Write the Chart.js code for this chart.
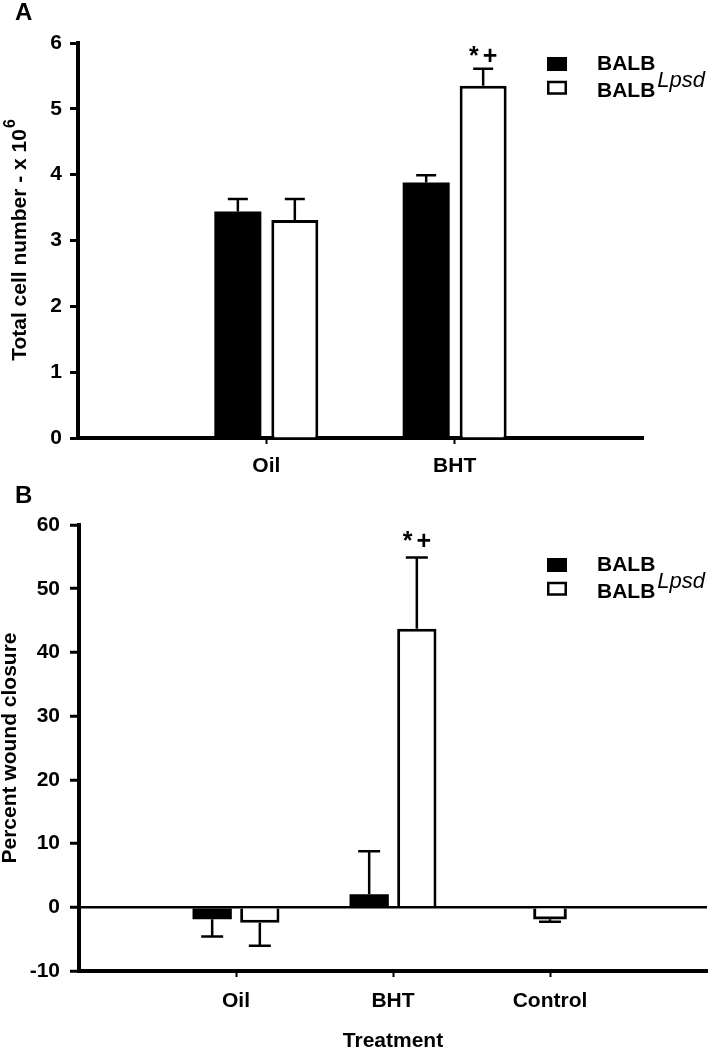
<!DOCTYPE html>
<html>
<head>
<meta charset="utf-8">
<script src="https://cdn.jsdelivr.net/npm/chart.js@4.4.1/dist/chart.umd.min.js"></script>
<style>
    html, body { margin: 0; padding: 0; background: #fff; }
    #wrap { position: relative; width: 719px; height: 1050px; }
    .panel { position: absolute; left: 0; width: 719px; }
    #panelA { top: 0; height: 480px; }
    #panelB { top: 480px; height: 570px; }
</style>
</head>
<body>
<div id="wrap">
    <div class="panel" id="panelA"><canvas id="chartA" width="719" height="480"></canvas></div>
    <div class="panel" id="panelB"><canvas id="chartB" width="719" height="570"></canvas></div>
</div>
<script>
// Panel A - total cell number (x 10^6)
const labelsA = ['', 'Oil', 'BHT', ''];
const balbA = [null, 3.44, 3.88, null];
const balbErrA = [null, 0.19, 0.11, null];
const lpsdA = [null, 3.31, 5.35, null];
const lpsdErrA = [null, 0.32, 0.26, null];
const lpsdMarksA = [null, null, '*+', null];
const yTicksA = [0, 1, 2, 3, 4, 5, 6];

// Panel B - percent wound closure
const labelsB = ['', 'Oil', 'BHT', 'Control', ''];
const balbB = [null, -1.86, 2.03, null, null];
const balbErrB = [null, 2.74, 6.77, null, null];
const lpsdB = [null, -2.44, 43.7, null, null];
const lpsdErrB = [null, 3.61, 11.2, null, null];
const lpsdMarksB = [null, null, '*+', null, null];
const controlB = [null, null, null, -1.86, null];
const controlErrB = [null, null, null, 0.41, null];
const yTicksB = [-10, 0, 10, 20, 30, 40, 50, 60];

const seriesNames = ['BALB', 'BALB'];
const seriesSup = ['', 'Lpsd'];

const FONT = '"Liberation Sans", Arial, Helvetica, sans-serif';
const FS = 21;
Chart.defaults.font.family = FONT;
Chart.defaults.color = '#000';

// error bars + significance marks drawn from the bar elements
const errorBars = {
    id: 'errorBars',
    afterDatasetsDraw(chart, args, opts) {
        const ctx = chart.ctx;
        const yScale = chart.scales.y;
        chart.data.datasets.forEach(function(ds, di) {
            if (!ds.errors) return;
            const meta = chart.getDatasetMeta(di);
            meta.data.forEach(function(bar, i) {
                const v = ds.data[i];
                const e = ds.errors[i];
                if (v === null || e === null || e === undefined) return;
                const end = yScale.getPixelForValue(v >= 0 ? v + e : v - e);
                ctx.save();
                ctx.strokeStyle = '#000';
                ctx.lineWidth = 2.5;
                ctx.beginPath();
                ctx.moveTo(bar.x, bar.y);
                ctx.lineTo(bar.x, end);
                ctx.moveTo(bar.x - opts.cap / 2, end);
                ctx.lineTo(bar.x + opts.cap / 2, end);
                ctx.stroke();
                if (ds.marks && ds.marks[i]) {
                    ctx.fillStyle = '#000';
                    ctx.font = 'bold 25px ' + FONT;
                    ctx.letterSpacing = '4px';
                    ctx.textAlign = 'center';
                    ctx.textBaseline = 'middle';
                    ctx.fillText(ds.marks[i], bar.x + 2, end - opts.markGap);
                }
                ctx.restore();
            });
        });
    }
};

// panel letter, legend with superscript, optional y title with superscript
const decor = {
    id: 'decor',
    afterDraw(chart, args, o) {
        const ctx = chart.ctx;
        ctx.save();
        ctx.fillStyle = '#000';
        ctx.textBaseline = 'middle';
        ctx.textAlign = 'left';
        ctx.font = 'bold 24px ' + FONT;
        ctx.fillText(o.letter, 15, o.letterY);

        // legend
        const lx = o.legendX;
        ctx.fillRect(lx, o.legendY[0] - 7, 20, 14);
        ctx.lineWidth = 2.5;
        ctx.strokeStyle = '#000';
        ctx.strokeRect(lx + 1.25, o.legendY[1] - 9, 17.5, 11.5);
        for (let k = 0; k < seriesNames.length; k++) {
            ctx.font = 'bold ' + FS + 'px ' + FONT;
            ctx.fillText(seriesNames[k], lx + 50, o.legendY[k]);
            if (seriesSup[k]) {
                const w = ctx.measureText(seriesNames[k]).width;
                ctx.font = 'italic 22px ' + FONT;
                ctx.fillText(seriesSup[k], lx + 52 + w, o.legendY[k] - 10);
            }
        }

        if (o.yTitle) {
            const area = chart.chartArea;
            ctx.translate(o.yTitle.x, (area.top + area.bottom) / 2);
            ctx.rotate(-Math.PI / 2);
            ctx.font = 'bold ' + FS + 'px ' + FONT;
            const w1 = ctx.measureText(o.yTitle.text).width;
            ctx.font = 'bold 16px ' + FONT;
            const w2 = ctx.measureText(o.yTitle.sup).width;
            const x0 = -(w1 + w2) / 2;
            ctx.font = 'bold ' + FS + 'px ' + FONT;
            ctx.fillText(o.yTitle.text, x0, 0);
            ctx.font = 'bold 16px ' + FONT;
            ctx.fillText(o.yTitle.sup, x0 + w1 + 1, -9);
        }
        ctx.restore();
    }
};

function xTickColor(c) {
    return (c.tick && c.tick.label) ? '#000' : 'rgba(0,0,0,0)';
}

const chartA = new Chart(document.getElementById('chartA'), {
    type: 'bar',
    data: {
        labels: labelsA,
        datasets: [{
            label: 'BALB',
            data: balbA,
            errors: balbErrA,
            backgroundColor: '#000',
            borderWidth: 0
        }, {
            label: 'BALB Lpsd',
            data: lpsdA,
            errors: lpsdErrA,
            marks: lpsdMarksA,
            backgroundColor: '#fff',
            borderColor: '#000',
            borderWidth: 3
        }]
    },
    options: {
        responsive: false,
        devicePixelRatio: 1,
        animation: false,
        categoryPercentage: 0.605,
        barPercentage: 0.825,
        layout: { padding: { top: 43, right: 76, left: 0, bottom: 0 } },
        plugins: {
            legend: { display: false },
            tooltip: { enabled: false },
            errorBars: { cap: 20, markGap: 12 },
            decor: {
                letter: 'A', letterY: 13,
                legendX: 547, legendY: [64, 91],
                yTitle: { x: 20, text: 'Total cell number - x 10', sup: '6' }
            }
        },
        scales: {
            x: {
                offset: false,
                grid: { offset: false, drawOnChartArea: false, tickLength: 6, tickWidth: 2, tickColor: xTickColor },
                border: { display: true, color: '#000', width: 4 },
                ticks: { autoSkip: false, maxRotation: 0, padding: 10, font: { size: FS, weight: 'bold' } },
                afterFit: function(s) { s.height = 480 - 438; }
            },
            y: {
                min: 0,
                max: 6,
                afterBuildTicks: function(a) { a.ticks = yTicksA.map(v => ({ value: v })); },
                grid: { drawOnChartArea: false, tickLength: 8, tickWidth: 3, tickColor: '#000' },
                border: { display: true, color: '#000', width: 4 },
                ticks: { padding: 8, font: { size: FS, weight: 'bold' } },
                afterFit: function(s) { s.width = 78; }
            }
        }
    },
    plugins: [errorBars, decor]
});

const chartB = new Chart(document.getElementById('chartB'), {
    type: 'bar',
    data: {
        labels: labelsB,
        datasets: [{
            label: 'BALB',
            data: balbB,
            errors: balbErrB,
            backgroundColor: '#000',
            borderWidth: 0
        }, {
            label: 'BALB Lpsd',
            data: lpsdB,
            errors: lpsdErrB,
            marks: lpsdMarksB,
            backgroundColor: '#fff',
            borderColor: '#000',
            borderWidth: 3
        }, {
            label: 'Control',
            data: controlB,
            errors: controlErrB,
            grouped: false,
            barThickness: 33,
            backgroundColor: '#fff',
            borderColor: '#000',
            borderWidth: 3
        }]
    },
    options: {
        responsive: false,
        devicePixelRatio: 1,
        animation: false,
        categoryPercentage: 0.607,
        barPercentage: 0.825,
        layout: { padding: { top: 45, right: 1, left: 0, bottom: 0 } },
        plugins: {
            legend: { display: false },
            tooltip: { enabled: false },
            errorBars: { cap: 22, markGap: 15 },
            decor: {
                letter: 'B', letterY: 16,
                legendX: 547, legendY: [85, 112]
            }
        },
        scales: {
            x: {
                offset: false,
                grid: { offset: false, drawOnChartArea: false, tickLength: 6, tickWidth: 2, tickColor: xTickColor },
                border: { display: true, color: '#000', width: 4 },
                ticks: { autoSkip: false, maxRotation: 0, padding: 12, font: { size: FS, weight: 'bold' } },
                title: {
                    display: true,
                    text: 'Treatment',
                    font: { size: FS, weight: 'bold', lineHeight: 0.8 },
                    padding: 0
                },
                afterFit: function(s) { s.height = 570 - 491; }
            },
            y: {
                min: -10,
                max: 60,
                afterBuildTicks: function(a) { a.ticks = yTicksB.map(v => ({ value: v })); },
                grid: {
                    drawOnChartArea: true,
                    color: c => (c.tick && c.tick.value === 0) ? '#000' : 'rgba(0,0,0,0)',
                    lineWidth: 2.5,
                    tickLength: 9,
                    tickWidth: 3,
                    tickColor: '#000'
                },
                border: { display: true, color: '#000', width: 4 },
                ticks: { padding: 10, font: { size: FS, weight: 'bold' } },
                title: {
                    display: true,
                    text: 'Percent wound closure',
                    font: { size: FS, weight: 'bold', lineHeight: 1 },
                    padding: 0
                },
                afterFit: function(s) { s.width = 79; }
            }
        }
    },
    plugins: [errorBars, decor]
});
</script>
</body>
</html>
